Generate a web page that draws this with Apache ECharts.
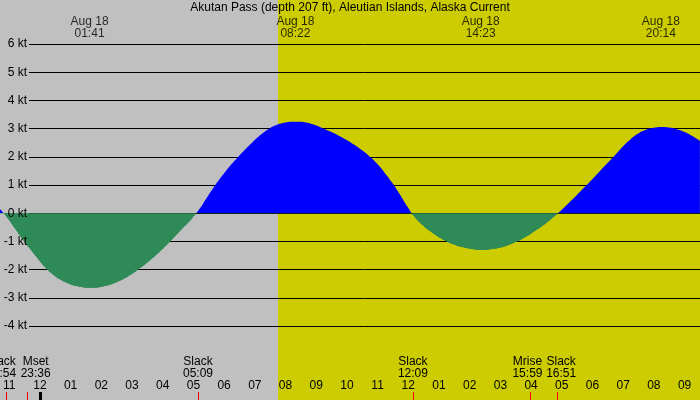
<!DOCTYPE html>
<html>
<head>
<meta charset="utf-8">
<title>Akutan Pass current</title>
<script src="https://cdn.jsdelivr.net/npm/echarts@6/dist/echarts.min.js"></script>
<style>
  html, body { margin: 0; padding: 0; }
  #chart { width: 700px; height: 400px; }
</style>
</head>
<body>
<div id="chart"></div>
<script>
// hours after midnight, Aug 18 (negative = Aug 17)
const hours = [-1.224, -1.0, -0.75, -0.5, -0.25,
  0, 0.25, 0.5, 0.75, 1.0, 1.25, 1.5, 1.75, 2.0, 2.25, 2.5, 2.75,
  3.0, 3.25, 3.5, 3.75, 4.0, 4.25, 4.5, 4.75, 5.0, 5.25, 5.5, 5.75,
  6.0, 6.25, 6.5, 6.75, 7.0, 7.25, 7.5, 7.75, 8.0, 8.25, 8.5, 8.75,
  9.0, 9.25, 9.5, 9.75, 10.0, 10.25, 10.5, 10.75, 11.0, 11.25, 11.5, 11.75,
  12.0, 12.25, 12.5, 12.75, 13.0, 13.25, 13.5, 13.75, 14.0, 14.25, 14.5, 14.75,
  15.0, 15.25, 15.5, 15.75, 16.0, 16.25, 16.5, 16.75, 17.0, 17.25, 17.5, 17.75,
  18.0, 18.25, 18.5, 18.75, 19.0, 19.25, 19.5, 19.75, 20.0, 20.25, 20.5, 20.75,
  21.0, 21.25, 21.5];
// current speed, knots (flood +, ebb -)
const speed = [0.15, -0.14, -0.52, -0.9, -1.26,
  -1.6, -1.92, -2.17, -2.36, -2.49, -2.58, -2.63, -2.64, -2.62, -2.56, -2.47, -2.35,
  -2.19, -2.0, -1.8, -1.57, -1.32, -1.05, -0.77, -0.48, -0.19, 0.15, 0.57, 0.98,
  1.35, 1.69, 1.99, 2.28, 2.55, 2.79, 2.99, 3.13, 3.21, 3.25, 3.25, 3.21,
  3.13, 3.02, 2.9, 2.77, 2.62, 2.45, 2.26, 2.04, 1.78, 1.46, 1.1, 0.68,
  0.24, -0.15, -0.42, -0.64, -0.83, -0.98, -1.1, -1.19, -1.25, -1.29, -1.3, -1.27,
  -1.22, -1.14, -1.03, -0.89, -0.73, -0.55, -0.35, -0.13, 0.11, 0.37, 0.64, 0.92,
  1.2, 1.49, 1.78, 2.07, 2.37, 2.63, 2.83, 2.96, 3.03, 3.06, 3.04, 2.98,
  2.88, 2.74, 2.57];

const extremeTimes = [1.683, 8.367, 14.383, 20.233];
const extremeLabels = ['Aug 18\n01:41', 'Aug 18\n08:22', 'Aug 18\n14:23', 'Aug 18\n20:14'];

const eventTimes = [-1.1, -0.4, 5.15, 12.15, 15.983, 16.85];
const eventLabels = ['Slack\n22:54', 'Mset\n23:36', 'Slack\n05:09', 'Slack\n12:09', 'Mrise\n15:59', 'Slack\n16:51'];
const eventNudge = [-5, 8, 0, 0, -3, 4];   // label shifts so texts don't collide

const sunrise = 7.8;
const hourTicks = [-1, 0, 1, 2, 3, 4, 5, 6, 7, 8, 9, 10, 11, 12, 13, 14, 15, 16, 17, 18, 19, 20, 21];
const ktMin = -4, ktMax = 6;

const tMin = -1.224, tMax = 21.503;
const font = 'Liberation Sans';
const night = '#c0c0c0', day = '#cccc00';
const flood = '#0000ff', ebb = '#2e8b57';

const chart = echarts.init(document.getElementById('chart'), null, { renderer: 'canvas' });

const curve = hours.map((h, i) => [h, speed[i]]);
const tops = extremeTimes.map((t, i) => ({ value: [t, 6.59], label: { formatter: extremeLabels[i] } }));
const ticks = eventTimes.map((t, i) => ({
  xAxis: t,
  lineStyle: { color: '#ff0000', width: 1, type: 'solid' },
  label: { formatter: eventLabels[i], offset: [eventNudge[i], 0] }
}));
ticks.push({ xAxis: 0, lineStyle: { color: '#000', width: 3, type: 'solid' }, label: { show: false } });

chart.setOption({
  animation: false,
  backgroundColor: night,
  textStyle: { fontFamily: font },
  title: {
    text: 'Akutan Pass (depth 207 ft), Aleutian Islands, Alaska Current',
    left: 'center', top: 2, padding: 0,
    textStyle: { fontFamily: font, fontSize: 12, fontWeight: 'normal', color: '#000', lineHeight: 12 }
  },
  grid: [
    { left: 0, right: 0, top: 0, bottom: 0 },
    { left: 29, right: 0, top: 44.1, bottom: 73.9 },
    { left: 0, right: 0, bottom: 0, height: 8 }
  ],
  xAxis: [
    { gridIndex: 0, type: 'value', min: tMin, max: tMax, show: false },
    { gridIndex: 1, type: 'value', min: tMin, max: tMax, show: false },
    {
      gridIndex: 2, type: 'value', min: tMin, max: tMax, position: 'top', z: 6,
      axisLine: { show: false },
      splitLine: { show: false },
      axisTick: { show: true, inside: true, length: 8, customValues: hourTicks, lineStyle: { color: '#000', width: 1 } },
      axisLabel: {
        show: true, margin: 0, customValues: hourTicks, color: '#000', fontSize: 12, fontFamily: font, lineHeight: 12,
        formatter: v => {
          let h = ((Math.round(v) % 12) + 12) % 12;
          if (h === 0) h = 12;
          return String(h).padStart(2, '0');
        }
      }
    }
  ],
  yAxis: [
    { gridIndex: 0, type: 'value', min: -6.621, max: 7.564, show: false },
    {
      gridIndex: 1, type: 'value', min: ktMin, max: ktMax, interval: 1, position: 'left', z: 1,
      axisLine: { show: false }, axisTick: { show: false }, axisLabel: { show: false },
      splitLine: { show: true, lineStyle: { color: '#000', width: 1 } }
    },
    {
      gridIndex: 1, type: 'value', min: ktMin, max: ktMax, interval: 1, position: 'left', z: 10,
      axisLine: { show: false }, axisTick: { show: false }, splitLine: { show: false },
      axisLabel: { margin: 2, color: '#000', fontSize: 12, fontFamily: font, formatter: v => v + ' kt' }
    },
    { gridIndex: 2, type: 'value', min: 0, max: 1, show: false }
  ],
  visualMap: [
    {
      type: 'piecewise', show: false, dimension: 1, seriesIndex: 1,
      pieces: [{ gte: -20, lt: 0, color: ebb }, { gte: 0, lte: 20, color: flood }]
    },
    {
      type: 'piecewise', show: false, dimension: 1, seriesIndex: 3,
      pieces: [{ gte: -20, lt: 0, color: ebb }, { gte: 0, lte: 20, color: 'rgba(0,0,0,0)' }]
    }
  ],
  series: [
    {
      // night / daylight bands
      type: 'line', xAxisIndex: 0, yAxisIndex: 0, data: [], z: 0, silent: true,
      markArea: {
        silent: true, z: 0,
        data: [
          [{ xAxis: tMin, itemStyle: { color: night, opacity: 1 } }, { xAxis: sunrise }],
          [{ xAxis: sunrise, itemStyle: { color: day, opacity: 1 } }, { xAxis: tMax }]
        ]
      }
    },
    {
      type: 'line', xAxisIndex: 0, yAxisIndex: 0, data: curve, z: 3, silent: true,
      smooth: 0.5, symbol: 'none',
      lineStyle: { width: 0 },
      areaStyle: { opacity: 1 }
    },
    {
      // zero line shows over the flood fill
      type: 'line', xAxisIndex: 1, yAxisIndex: 1, data: [], z: 4, silent: true,
      markLine: {
        silent: true, z: 4, symbol: ['none', 'none'], label: { show: false },
        lineStyle: { color: '#000', width: 1, type: 'solid' },
        data: [{ yAxis: 0 }]
      }
    },
    {
      // ebb fill drawn again on top of the zero line
      type: 'line', xAxisIndex: 0, yAxisIndex: 0, data: curve, z: 5, silent: true,
      smooth: 0.5, symbol: 'none',
      lineStyle: { width: 0 },
      areaStyle: { opacity: 1 }
    },
    {
      type: 'scatter', xAxisIndex: 0, yAxisIndex: 0, data: tops, z: 8, silent: true,
      symbolSize: 0,
      label: { show: true, position: 'inside', color: '#000', fontSize: 12, fontFamily: font, lineHeight: 12.5 }
    },
    {
      type: 'line', xAxisIndex: 2, yAxisIndex: 3, data: [], z: 6, silent: true,
      markLine: {
        silent: true, symbol: ['none', 'none'], animation: false,
        label: { show: true, position: 'end', distance: 12, color: '#000', fontSize: 12, fontFamily: font, lineHeight: 12 },
        data: ticks
      }
    }
  ]
});
</script>
</body>
</html>
